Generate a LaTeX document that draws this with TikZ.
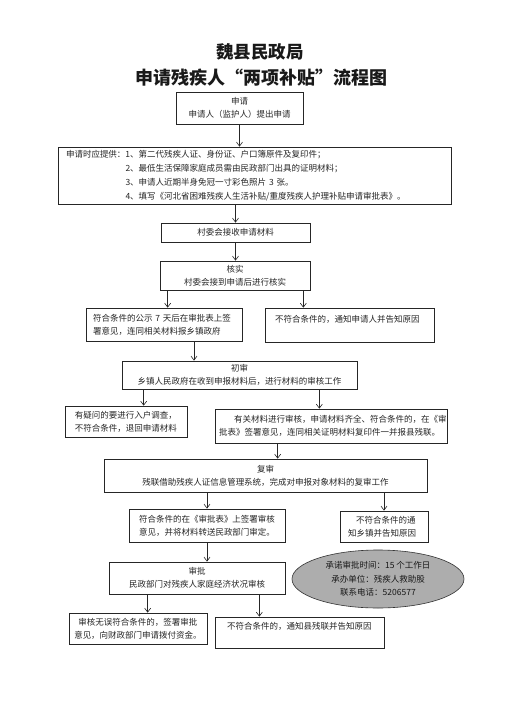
\documentclass[tikz,border=0pt]{standalone}
\usepackage{fontspec}
\setmainfont{Noto Sans CJK SC}
\usetikzlibrary{arrows.meta,shapes.geometric}
\begin{document}
\begin{tikzpicture}[x=1pt,y=-1pt,
  box/.style={draw=black!85, line width=0.7pt, inner sep=0pt, text=black!85,
    font=\fontsize{8.5pt}{13pt}\selectfont},
  oval/.style={ellipse, draw=black!80, line width=0.6pt, fill=black!32, inner sep=0pt,
    text=black!90, align=center, font=\fontsize{8.5pt}{13.5pt}\selectfont},
  ttl/.style={text=black!90, inner sep=0pt},
  arr/.style={draw=black!85, line width=0.6pt, -{Straight Barb[length=4pt,width=6pt]}}]
\useasboundingbox[fill=white] (0,0) rectangle (511,702);

% titles
\node[ttl, font=\fontsize{17.5pt}{20pt}\selectfont\bfseries] (t1) at (260,52) {魏县民政局};
\node[ttl, font=\fontsize{18pt}{22pt}\selectfont\bfseries] (t2) at (261,78) {申请残疾人“两项补贴”流程图};

% boxes
\node[box, minimum width=127pt, minimum height=32pt, text width=120pt, align=center] (b1) at (239.5,108)
  {申请\\申请人（监护人）提出申请};
\node[box, minimum width=393pt, minimum height=57pt, text width=377pt, align=left,
  font=\fontsize{8.5pt}{13.8pt}\selectfont] (b2) at (254.5,175.5)
  {申请时应提供：1、第二代残疾人证、身份证、户口簿原件及复印件；\\
   \phantom{申请时应提供：}2、最低生活保障家庭成员需由民政部门出具的证明材料；\\
   \phantom{申请时应提供：}3、申请人近期半身免冠一寸彩色照片 3 张。\\
   \phantom{申请时应提供：}4、填写《河北省困难残疾人生活补贴/重度残疾人护理补贴申请审批表》。};
\node[box, minimum width=149pt, minimum height=19pt, text width=140pt, align=center] (b3) at (235.5,232.5)
  {村委会接收申请材料};
\node[box, minimum width=150pt, minimum height=29pt, text width=140pt, align=center] (b4) at (235,275.5)
  {核实\\村委会接到申请后进行核实};
\node[box, minimum width=156pt, minimum height=33pt, text width=142pt, align=left] (b5l) at (164,324.5)
  {符合条件的公示 7 天后在审批表上签\\署意见，连同相关材料报乡镇政府};
\node[box, minimum width=169pt, minimum height=34pt, text width=149pt, align=left] (b5r) at (349.5,325)
  {不符合条件的，通知申请人并告知原因\\\mbox{}};
\node[box, minimum width=235pt, minimum height=28pt, text width=225pt, align=center] (b6) at (239.5,375)
  {初审\\乡镇人民政府在收到申报材料后，进行材料的审核工作};
\node[box, minimum width=122pt, minimum height=31pt, text width=112pt, align=center] (b7l) at (126,421.5)
  {有疑问的要进行入户调查，\\不符合条件，退回申请材料};
\node[box, minimum width=232pt, minimum height=34pt, text width=224pt, align=left] (b7r) at (331,426)
  {\hspace*{15pt}有关材料进行审核，申请材料齐全、符合条件的，在《审\\批表》签署意见，连同相关证明材料复印件一并报县残联。};
\node[box, minimum width=323pt, minimum height=33pt, text width=300pt, align=center] (b8) at (265.5,475.5)
  {复审\\残联借助残疾人证信息管理系统，完成对申报对象材料的复审工作};
\node[box, minimum width=156pt, minimum height=33pt, text width=146pt, align=center] (b9l) at (207,525.5)
  {符合条件的在《审批表》上签署审核\\意见，并将材料转送民政部门审定。};
\node[box, minimum width=88pt, minimum height=31pt, text width=72pt, align=left] (b9r) at (384,526.5)
  {\hspace*{8pt}不符合条件的通\\知乡镇并告知原因};
\node[box, minimum width=176pt, minimum height=32pt, text width=166pt, align=center] (b10) at (197,578)
  {审批\\民政部门对残疾人家庭经济状况审核};
\node[oval, minimum width=172pt, minimum height=58pt] (e) at (378,579)
  {承诺审批时间：15 个工作日\\承办单位：残疾人救助股\\联系电话：5206577};
\node[box, minimum width=138pt, minimum height=31pt, text width=130pt, align=center] (b11l) at (138,628.5)
  {审核无误符合条件的，签署审批\\意见，向财政部门申请拨付资金。};
\node[box, minimum width=169pt, minimum height=31pt, text width=145pt, align=left] (b11r) at (299.5,632.5)
  {不符合条件的，通知县残联并告知原因\\\mbox{}};

% arrow start points
\coordinate (a45l) at ([xshift=8pt]b4.south west);
\coordinate (a45r) at ([xshift=-7pt]b4.south east);
\coordinate (a56) at ([xshift=30pt]b5l.south);
\coordinate (a67l) at ([xshift=22pt]b6.south west);
\coordinate (a67r) at ([xshift=-38pt]b6.south east);
\coordinate (a78) at ([xshift=63pt]b7r.south west);
\coordinate (a1011l) at ([xshift=39pt]b10.south west);
\coordinate (a1011r) at ([xshift=-26pt]b10.south east);

% connectors
\draw[arr] (b1.south) -- (b1.south |- b2.north);
\draw[arr] (b3.north |- b2.south) -- (b3.north);
\draw[arr] (b3.south) -- (b3.south |- b4.north);
\draw[arr] (a45l) -- (a45l |- b5l.north);
\draw[arr] (a45r) -- (a45r |- b5r.north);
\draw[arr] (a56) -- (a56 |- b6.north);
\draw[arr] (a67l) -- (a67l |- b7l.north);
\draw[arr] (a67r) -- (a67r |- b7r.north);
\draw[arr] (a78) -- (a78 |- b8.north);
\draw[arr] (b9l.north |- b8.south) -- (b9l.north);
\draw[arr] (b9r.north |- b8.south) -- (b9r.north);
\draw[arr] (b9l.south) -- (b9l.south |- b10.north);
\draw[arr] (a1011l) -- (a1011l |- b11l.north);
\draw[arr] (a1011r) -- (a1011r |- b11r.north);
\end{tikzpicture}
\end{document}
